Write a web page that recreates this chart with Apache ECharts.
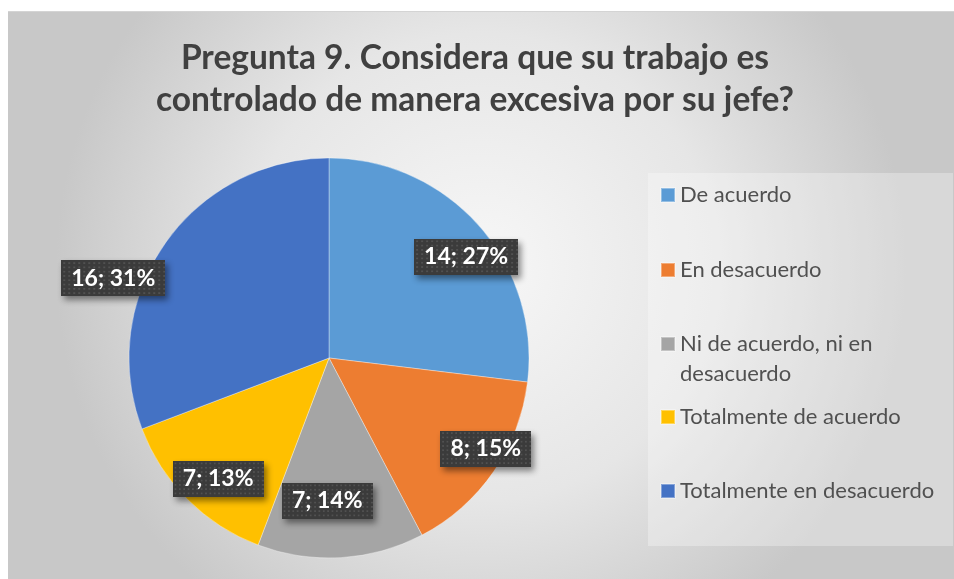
<!DOCTYPE html>
<html>
<head>
    <meta charset="utf-8">
    <title>Pregunta 9</title>
    <script type="text/javascript" src="https://cdn.jsdelivr.net/npm/echarts@6/dist/echarts.min.js"></script>
    <style>
        body { margin: 0; background: #fff; }
        #root { position: absolute; left: 8px; top: 11px; width: 946px; height: 568px; border-top: 1px solid #d4d4d4; box-sizing: border-box; }
    </style>
</head>
<body>
    <div id="root"></div>
<script type="text/javascript">
var categories = ['De acuerdo', 'En desacuerdo', 'Ni de acuerdo, ni en desacuerdo', 'Totalmente de acuerdo', 'Totalmente en desacuerdo'];
var values = [14, 8, 7, 7, 16];
var colors = ['#5b9bd5', '#ed7d31', '#a5a5a5', '#ffc000', '#4472c4'];

// where each label box sits, nudged from the default 'inside' spot
var labelOffsets = [[60, -33], [72, 32], [-8, 40], [-38, 48], [-131, -21]];
// legend icon centres (y, chart coords)
var legendY = [183, 258, 332, 405, 479];

// dotted dark fill for the label boxes
var dots = document.createElement('canvas');
dots.width = 104; dots.height = 42;
var dc = dots.getContext('2d');
dc.fillStyle = '#3b3b3b';
dc.fillRect(0, 0, 104, 42);
dc.fillStyle = '#515151';
for (var yy = 2; yy < 42; yy += 5) {
    for (var xx = 2; xx < 104; xx += 5) {
        dc.fillRect(xx, yy, 2, 2);
    }
}

var myChart = echarts.init(document.getElementById('root'));

var pieData = categories.map(function (name, i) {
    return {
        name: name,
        value: values[i],
        label: { offset: labelOffsets[i] }
    };
});

var legends = categories.map(function (name, i) {
    var twoLines = name.indexOf('Ni de') === 0;
    return {
        data: [name],
        left: 652,
        top: legendY[i] - (twoLines ? 45 : 15),
        padding: 0,
        itemWidth: 14,
        itemHeight: 14,
        icon: 'rect',
        itemGap: 0,
        selectedMode: false,
        formatter: function (n) {
            // empty first line keeps the square level with the first text line
            return n === 'Ni de acuerdo, ni en desacuerdo' ? '\nNi de acuerdo, ni en\ndesacuerdo' : n;
        },
        textStyle: {
            fontFamily: 'Lato',
            fontSize: 22,
            color: '#505050',
            lineHeight: 30
        }
    };
});

var option = {
    backgroundColor: {
        type: 'radial',
        x: 0.5, y: 0.45, r: 0.75,
        colorStops: [
            { offset: 0, color: '#f7f7f7' },
            { offset: 0.55, color: '#e6e6e6' },
            { offset: 1, color: '#c8c8c8' }
        ]
    },
    color: colors,
    title: {
        text: 'Pregunta 9. Considera que su trabajo es\ncontrolado de manera excesiva por su jefe?',
        left: 462,
        top: 20,
        padding: 5,
        textAlign: 'center',
        textStyle: {
            fontFamily: 'Lato',
            fontSize: 33.5,
            fontWeight: 'bold',
            color: '#404040',
            lineHeight: 42
        }
    },
    graphic: [{
        type: 'rect',
        shape: { x: 640, y: 161, width: 305, height: 373 },
        style: { fill: 'rgba(255,255,255,0.3)' },
        z: -1,
        silent: true
    }],
    legend: legends,
    series: [{
        type: 'pie',
        center: [321, 346],
        radius: 200,
        startAngle: 90,
        clockwise: true,
        avoidLabelOverlap: false,
        percentPrecision: 0,
        itemStyle: {
            borderColor: 'rgba(255,255,255,0.35)',
            borderWidth: 1
        },
        label: {
            show: true,
            position: 'inside',
            formatter: '{c}; {d}%',
            fontFamily: 'Lato',
            fontSize: 23,
            fontWeight: 'bold',
            color: '#ffffff',
            backgroundColor: { image: dots },
            padding: [7, 10, 6, 10],
            shadowColor: 'rgba(0,0,0,0.45)',
            shadowBlur: 6,
            shadowOffsetX: 3,
            shadowOffsetY: 4
        },
        labelLine: { show: false },
        emphasis: { scale: false },
        data: pieData
    }]
};

myChart.setOption(option, true);
</script>
</body>
</html>
